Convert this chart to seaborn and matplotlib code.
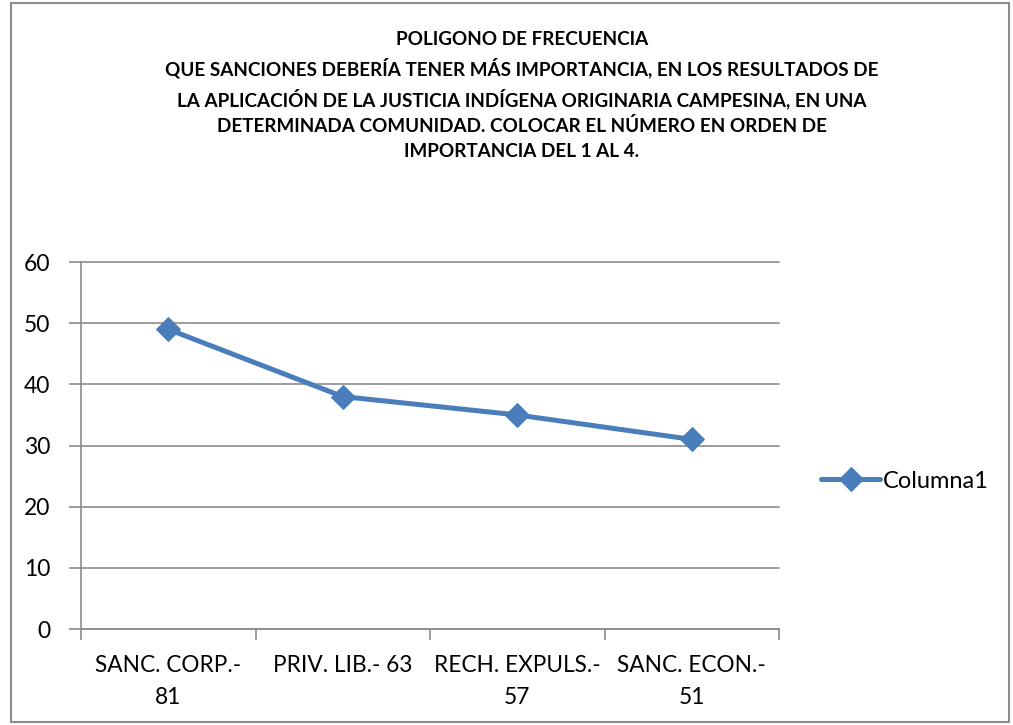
import seaborn as sns
import pandas as pd
import numpy as np
import matplotlib.pyplot as plt
from matplotlib.patches import Rectangle

categories = ['SANC. CORP.-\n81', 'PRIV. LIB.- 63', 'RECH. EXPULS.-\n57', 'SANC. ECON.-\n51']
values = [49, 38, 35, 31]
series_name = 'Columna1'
title = ('POLIGONO DE FRECUENCIA\n'
         'QUE SANCIONES DEBERÍA TENER MÁS IMPORTANCIA, EN LOS RESULTADOS DE\n'
         'LA APLICACIÓN DE LA JUSTICIA INDÍGENA ORIGINARIA CAMPESINA, EN UNA\n'
         'DETERMINADA COMUNIDAD. COLOCAR EL NÚMERO EN ORDEN DE\n'
         'IMPORTANCIA DEL 1 AL 4.')

sns.set_style('white', {'xtick.bottom': True, 'ytick.left': True})
plt.rcParams['font.family'] = ['Lato', 'DejaVu Sans']
plt.rcParams['text.color'] = 'black'
plt.rcParams['xtick.color'] = 'black'
plt.rcParams['ytick.color'] = 'black'

df = pd.DataFrame({'pos': np.arange(len(categories)), 'value': values, 'serie': series_name})

fig = plt.figure(figsize=(10.13, 7.25), dpi=100)
ax = fig.add_axes([0.08, 0.1324, 0.689, 0.5062])

line_color = '#4A7EBB'
grid_color = '#8C8C8C'

sns.lineplot(data=df, x='pos', y='value', hue='serie', palette=[line_color],
             marker='D', markersize=12, linewidth=3.6, markeredgecolor=line_color,
             ax=ax)

ax.set_xlim(-0.5, len(categories) - 0.5)
ax.set_ylim(0, 60)
ax.set_yticks(np.arange(0, 61, 10))
ax.yaxis.grid(True, color=grid_color, linewidth=1.2, clip_on=False)
ax.set_axisbelow(True)

ax.set_xticks(np.arange(len(categories)))
ax.set_xticklabels(categories, fontsize=16.3, linespacing=1.6)
ax.set_xticks(np.arange(-0.5, len(categories), 1), minor=True)
ax.tick_params(axis='x', which='major', length=0, pad=19)
ax.tick_params(axis='x', which='minor', length=8, width=1.2, color=grid_color, direction='out')
ax.tick_params(axis='y', length=9, width=1.2, color=grid_color, labelcolor='black',
               direction='out', labelsize=16.5, pad=13)
for lab in ax.get_xticklabels():
    lab.set_verticalalignment('top')

for side in ['top', 'right']:
    ax.spines[side].set_visible(False)
for side in ['left', 'bottom']:
    ax.spines[side].set_color(grid_color)
    ax.spines[side].set_linewidth(1.2)

ax.set_xlabel('')
ax.set_ylabel('')

leg = ax.legend(loc='center left', bbox_to_anchor=(1.03, 0.403), frameon=False,
                fontsize=17, handlelength=2.5, handletextpad=0.1)

fig.text(0.515, 0.957, title, ha='center', va='top', fontsize=13.6, fontweight='bold',
         linespacing=1.55)

fig.patches.append(Rectangle((0.011, 0.004), 0.985, 0.992, transform=fig.transFigure,
                             fill=False, edgecolor=grid_color, linewidth=1.5))

fig.savefig('out.png', dpi=100)
